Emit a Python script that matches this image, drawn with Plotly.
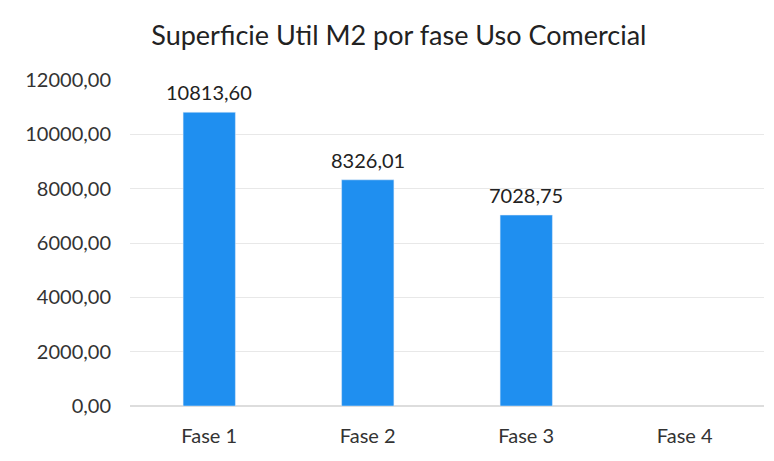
import plotly.graph_objects as go

fases = ["Fase 1", "Fase 2", "Fase 3", "Fase 4"]
superficie = [10813.60, 8326.01, 7028.75, None]

fig = go.Figure()
fig.add_trace(
    go.Bar(
        x=fases,
        y=superficie,
        marker_color="#1f8ff0",
        width=0.33,
        cliponaxis=False,
    )
)

# etiquetas de datos (con separador decimal coma)
for fase, valor in zip(fases, superficie):
    if valor is None:
        continue
    fig.add_annotation(
        x=fase, y=valor,
        text=f"{valor:.2f}".replace(".", ","),
        showarrow=False,
        yanchor="bottom",
        yshift=6,
        font=dict(size=20, color="#222222"),
    )

fig.update_layout(
    title=dict(
        text="Superficie Util M2 por fase Uso Comercial",
        x=0.505, xanchor="center", y=0.94, yanchor="middle",
        font=dict(size=27, color="#222222"),
    ),
    font=dict(family="Lato, Open Sans, sans-serif", size=20, color="#333333"),
    separators=",.",
    width=774,
    height=461,
    margin=dict(l=122, r=18, t=72, b=63),
    plot_bgcolor="white",
    paper_bgcolor="white",
    showlegend=False,
)
fig.update_yaxes(
    range=[0, 12000],
    dtick=2000,
    tickformat=".2f",
    showgrid=True,
    gridcolor="#e8e8e8",
    zeroline=True,
    zerolinecolor="#dddddd",
    ticks="",
    ticklabelstandoff=18,
)
fig.update_xaxes(showgrid=False, ticks="", ticklabelstandoff=16)

fig.write_html("out.html")
